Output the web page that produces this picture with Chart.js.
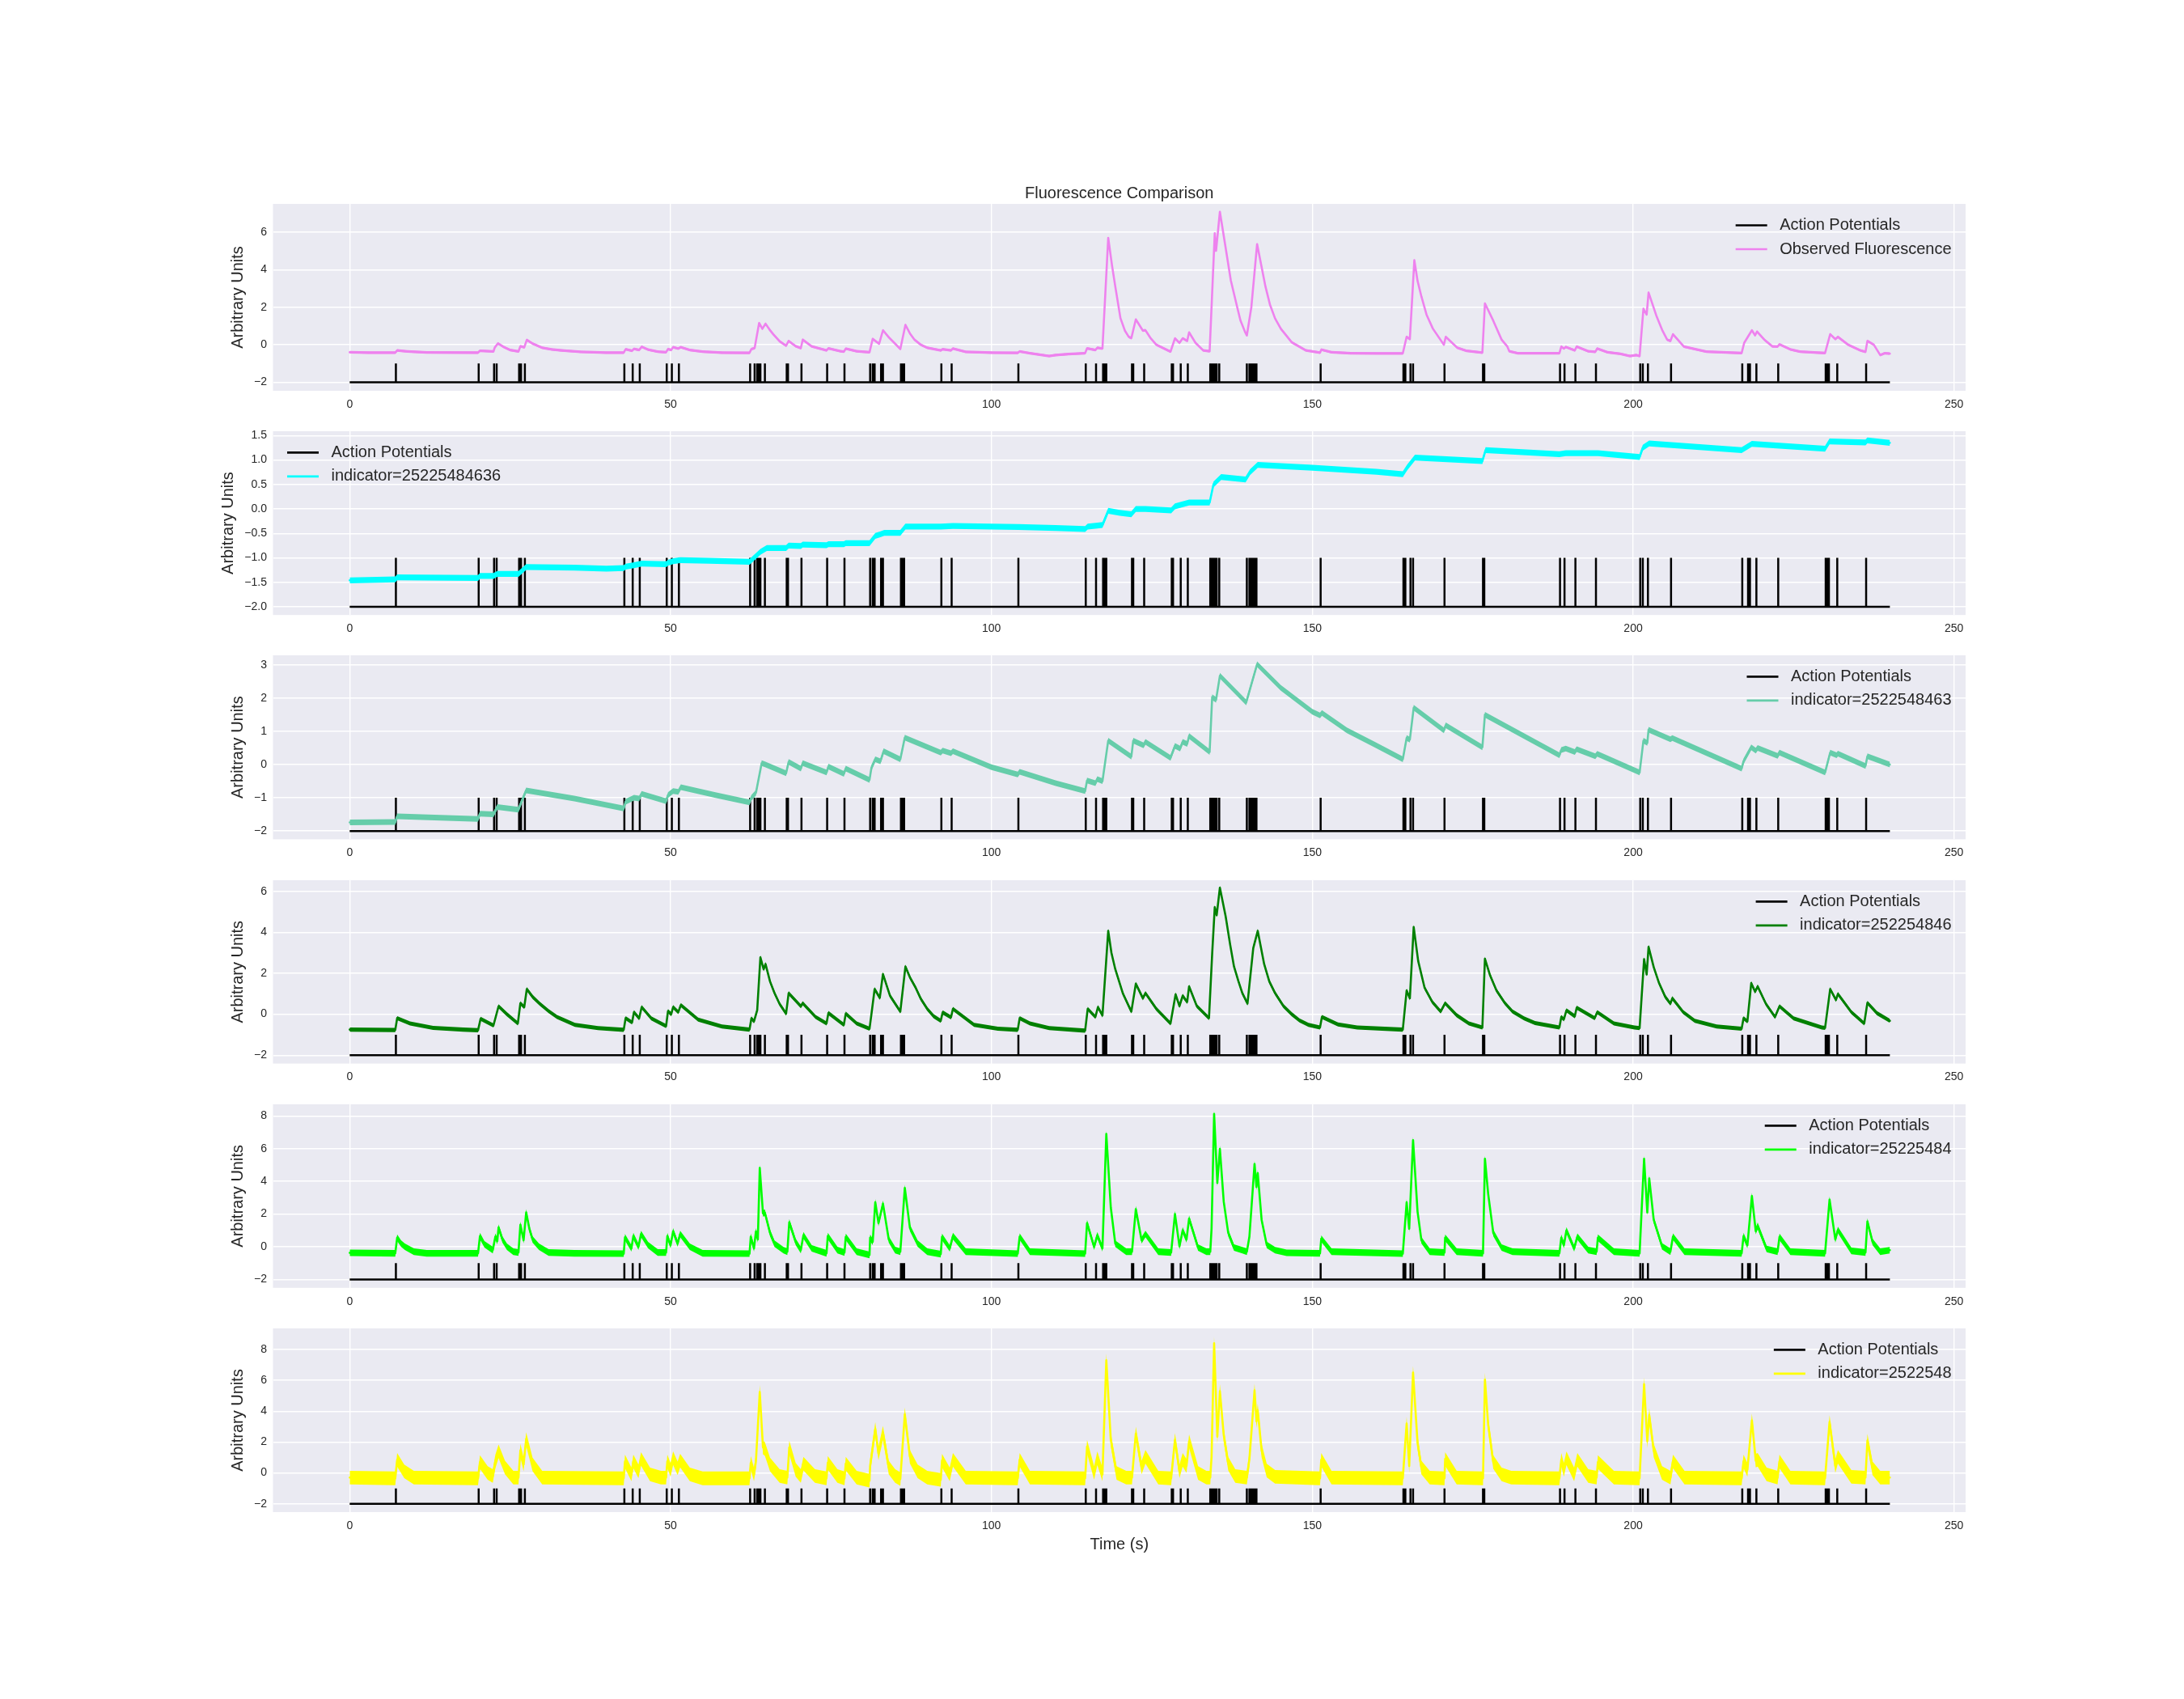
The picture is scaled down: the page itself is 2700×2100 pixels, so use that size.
<!DOCTYPE html>
<html><head><meta charset="utf-8">
<script src="https://cdn.jsdelivr.net/npm/chart.js@4.4.0/dist/chart.umd.min.js"></script>
<style>
html,body{margin:0;padding:0;background:#ffffff;}
body{width:2700px;height:2100px;position:relative;overflow:hidden;}
canvas{position:absolute;}
</style></head><body>
<script>
// ---------------- DATA ----------------
const spikeTimes = [7.2,20.1,22.5,22.9,26.4,26.7,27.3,42.8,44.1,45.2,49.4,50.2,51.3,62.4,63.1,63.5,63.7,64.0,64.7,68.1,68.3,70.4,74.4,77.1,81.1,81.5,81.8,82.8,83.1,85.9,86.1,86.4,92.2,93.8,104.2,114.7,116.3,117.4,117.7,117.9,121.9,122.1,123.8,128.1,128.3,129.5,130.6,134.1,134.3,134.6,134.9,135.1,135.5,139.8,140.2,140.5,140.8,141.0,141.3,151.3,164.2,164.5,165.3,165.7,170.6,176.6,176.8,188.6,189.3,191.0,194.2,201.1,201.5,202.3,205.9,217.0,217.9,218.2,219.2,222.6,230.0,230.3,230.5,231.8,236.3];
const apBase = -2, apPeak = -1, traceStart = 0, traceEnd = 240;

const xTicks = [0,50,100,150,200,250];
const yTicks1 = [-2,0,2,4,6];
const yTicks2 = [-2.0,-1.5,-1.0,-0.5,0.0,0.5,1.0,1.5];
const yTicks3 = [-2,-1,0,1,2,3];
const yTicks4 = [-2,0,2,4,6];
const yTicks5 = [-2,0,2,4,6,8];
const yTicks6 = [-2,0,2,4,6,8];

const seriesLabels = ['Observed Fluorescence','indicator=25225484636','indicator=2522548463','indicator=252254846','indicator=25225484','indicator=2522548'];
const apLabel = 'Action Potentials';
const chartTitle = 'Fluorescence Comparison';
const xLabel = 'Time (s)';
const yLabel = 'Arbitrary Units';

const observedFluorescence = [[0,-0.40],[3,-0.42],[7.1,-0.42],[7.4,-0.30],[9,-0.36],[12,-0.41],[20.0,-0.42],[20.3,-0.32],[22.4,-0.36],[22.6,-0.15],[23.1,0.07],[24,-0.12],[25,-0.28],[26.3,-0.36],[26.6,-0.08],[27.2,-0.14],[27.6,0.26],[28.5,0.06],[30,-0.16],[31.5,-0.25],[33,-0.30],[36,-0.38],[40,-0.42],[42.7,-0.42],[43.0,-0.24],[44.0,-0.32],[44.3,-0.22],[45.1,-0.28],[45.5,-0.11],[46.5,-0.26],[48,-0.37],[49.3,-0.40],[49.6,-0.23],[50.1,-0.28],[50.4,-0.13],[51.2,-0.20],[51.6,-0.13],[53,-0.28],[55,-0.37],[58,-0.42],[62.3,-0.43],[62.6,-0.23],[63.1,-0.18],[63.8,1.16],[64.3,0.85],[64.8,1.12],[65.4,0.82],[66,0.56],[67,0.18],[68.0,-0.05],[68.4,0.20],[69.5,-0.08],[70.3,-0.18],[70.6,0.27],[72,-0.09],[74.3,-0.30],[74.6,-0.19],[76.5,-0.35],[77.0,-0.37],[77.3,-0.21],[79,-0.35],[81.0,-0.40],[81.5,0.31],[82.5,0.05],[83.1,0.77],[84,0.40],[85,0.05],[85.8,-0.23],[86.6,1.06],[87.3,0.60],[88,0.27],[89,0.0],[90,-0.16],[92.1,-0.30],[92.4,-0.24],[93.7,-0.30],[94.0,-0.20],[96,-0.38],[100,-0.42],[104.1,-0.43],[104.4,-0.36],[106,-0.45],[109,-0.60],[110,-0.55],[112,-0.50],[114.6,-0.45],[114.9,-0.19],[116.2,-0.28],[116.5,-0.16],[117.3,-0.20],[118.2,5.69],[118.8,4.2],[119.3,3.10],[120.1,1.42],[120.8,0.75],[121.4,0.42],[121.8,0.35],[122.5,1.35],[123.6,0.75],[124.0,0.77],[124.8,0.35],[125.7,0.0],[127.9,-0.37],[128.6,0.34],[129.3,0.10],[129.8,0.34],[130.5,0.20],[130.8,0.66],[131.8,0.10],[133,-0.30],[134.0,-0.35],[134.8,5.94],[135.0,5.00],[135.6,7.08],[136.5,5.15],[137.3,3.43],[138.2,2.14],[138.8,1.3],[139.5,0.70],[139.8,0.49],[140.5,2.0],[141.4,5.36],[142.1,4.14],[142.7,3.1],[143.4,2.14],[144.2,1.4],[145.1,0.85],[146.8,0.13],[149,-0.30],[151.2,-0.42],[151.4,-0.26],[153,-0.40],[156,-0.45],[160,-0.46],[164.1,-0.46],[164.7,0.42],[165.2,0.30],[165.9,4.50],[166.4,3.4],[167,2.57],[167.8,1.6],[168.8,0.85],[170.5,0.0],[170.8,0.42],[172.6,-0.16],[174,-0.32],[176.5,-0.42],[176.9,2.20],[178.2,1.28],[179.5,0.27],[180.4,-0.10],[180.7,-0.35],[182,-0.45],[188.5,-0.45],[188.8,-0.10],[189.2,-0.20],[189.5,-0.12],[190.9,-0.30],[191.2,-0.10],[193,-0.35],[194.1,-0.38],[194.4,-0.20],[196,-0.40],[198,-0.48],[199.5,-0.60],[200.5,-0.55],[201.0,-0.60],[201.6,1.92],[202.1,1.60],[202.4,2.78],[203.6,1.56],[204.5,0.8],[205.3,0.27],[205.8,0.20],[206.2,0.56],[207.9,-0.10],[211.4,-0.37],[216.9,-0.44],[217.3,0.10],[218.5,0.77],[219.0,0.50],[219.3,0.70],[220.5,0.25],[221.7,-0.09],[222.5,-0.10],[222.8,0.02],[224.5,-0.25],[226,-0.37],[229.9,-0.44],[230.7,0.56],[231.5,0.30],[231.9,0.42],[233.5,0.0],[235.4,-0.30],[236.2,-0.38],[236.5,0.20],[237.5,0.0],[238.5,-0.55],[239.2,-0.45],[240,-0.47]];

const indicator25225484636 = [[0,-1.46],[7.1,-1.44],[7.4,-1.40],[20.0,-1.41],[20.3,-1.37],[22.4,-1.37],[23.0,-1.33],[26.3,-1.33],[27.5,-1.19],[35,-1.20],[40,-1.22],[42.7,-1.21],[43.0,-1.18],[44.3,-1.15],[45.5,-1.12],[49.3,-1.13],[49.6,-1.10],[50.4,-1.07],[51.5,-1.05],[56,-1.06],[62.3,-1.08],[62.6,-1.05],[64.0,-0.88],[65.0,-0.80],[68.0,-0.80],[68.4,-0.75],[70.3,-0.76],[70.6,-0.73],[74.3,-0.74],[74.6,-0.72],[77.0,-0.72],[77.3,-0.70],[81.0,-0.70],[81.9,-0.55],[82.7,-0.52],[83.3,-0.49],[85.8,-0.49],[86.6,-0.36],[92.1,-0.36],[94,-0.35],[100,-0.36],[104.2,-0.37],[110,-0.39],[114.6,-0.41],[115,-0.36],[116.5,-0.34],[117.3,-0.33],[118.2,-0.04],[120,-0.08],[121.8,-0.11],[122.5,0.0],[124,0.0],[128.0,-0.03],[128.6,0.05],[130.8,0.13],[134.0,0.13],[134.6,0.50],[135.8,0.65],[139.6,0.60],[140.3,0.75],[141.5,0.90],[150,0.84],[160,0.76],[164.1,0.71],[164.8,0.85],[166,1.05],[176.5,0.98],[177,1.20],[188.5,1.12],[189.5,1.14],[194.5,1.14],[201,1.06],[201.5,1.25],[202.5,1.34],[216.9,1.20],[218.5,1.33],[229.9,1.23],[230.6,1.38],[236.2,1.36],[236.5,1.40],[240,1.35]];

const indicator2522548463 = [[0,-1.74],[7.1,-1.73],[7.4,-1.56],[20.0,-1.64],[20.3,-1.48],[22.4,-1.50],[23.0,-1.28],[26.3,-1.36],[26.6,-1.20],[27.5,-0.78],[35,-1.02],[42.7,-1.32],[43.0,-1.12],[44.3,-1.00],[45.1,-1.02],[45.5,-0.88],[49.3,-1.10],[49.6,-0.92],[50.4,-0.80],[51.2,-0.82],[51.6,-0.68],[57,-0.92],[62.3,-1.14],[62.6,-1.00],[63.3,-0.85],[64.2,0.04],[64.8,0.0],[68.0,-0.26],[68.4,0.08],[70.3,-0.12],[70.6,0.04],[74.3,-0.24],[74.6,-0.06],[77.0,-0.28],[77.3,-0.12],[81.0,-0.46],[81.3,-0.10],[81.9,0.16],[82.7,0.10],[83.2,0.40],[85.8,0.16],[86.5,0.81],[92.1,0.36],[92.4,0.42],[93.7,0.34],[94.0,0.40],[100,-0.08],[104.1,-0.30],[104.4,-0.22],[110,-0.56],[114.6,-0.80],[114.9,-0.48],[116.2,-0.56],[116.5,-0.44],[117.3,-0.50],[118.2,0.72],[121.8,0.24],[122.1,0.72],[123.7,0.58],[124.0,0.68],[127.9,0.20],[128.6,0.56],[129.4,0.48],[129.8,0.68],[130.5,0.62],[130.8,0.86],[134.0,0.38],[134.4,2.03],[135.0,1.95],[135.6,2.67],[139.7,1.87],[141.4,3.02],[145.1,2.31],[150,1.59],[151.2,1.48],[151.5,1.55],[155.4,1.03],[159.7,0.60],[164.1,0.16],[164.7,0.80],[165.2,0.75],[165.8,1.71],[170.5,1.03],[170.8,1.18],[176.5,0.52],[176.9,1.50],[188.5,0.28],[188.8,0.44],[189.5,0.48],[190.9,0.38],[191.2,0.46],[194.1,0.25],[194.4,0.32],[201.0,-0.24],[201.6,0.72],[202.2,0.65],[202.4,1.05],[205.8,0.76],[206.1,0.80],[216.9,-0.12],[217.2,0.10],[218.4,0.52],[219.1,0.42],[219.4,0.50],[222.5,0.26],[222.8,0.36],[229.9,-0.24],[230.7,0.36],[231.7,0.28],[231.9,0.33],[236.2,-0.04],[236.5,0.25],[240,0.0]];

const indicator252254846 = [[0,-0.75],[7.1,-0.77],[7.4,-0.19],[9.4,-0.45],[13,-0.67],[17.7,-0.75],[20.0,-0.78],[20.4,-0.22],[22.4,-0.55],[23.2,0.39],[24.5,0.0],[26.2,-0.45],[26.6,0.54],[27.2,0.35],[27.6,1.23],[28.5,0.85],[29.6,0.52],[31,0.15],[32.3,-0.13],[35.1,-0.52],[38.7,-0.68],[42.7,-0.76],[43.0,-0.19],[44.0,-0.40],[44.3,0.10],[45.1,-0.20],[45.5,0.35],[47,-0.20],[49.3,-0.58],[49.6,0.15],[50.1,0.0],[50.4,0.35],[51.2,0.10],[51.6,0.45],[54.3,-0.26],[58,-0.60],[62.3,-0.75],[62.6,-0.20],[63.0,-0.35],[63.5,0.20],[64.0,2.78],[64.5,2.20],[64.8,2.45],[65.5,1.60],[66.2,1.03],[67,0.50],[68.0,0.03],[68.4,1.03],[70.3,0.39],[70.6,0.54],[72.6,-0.13],[74.3,-0.45],[74.6,0.06],[77.0,-0.52],[77.3,0.03],[79,-0.45],[81.0,-0.71],[81.3,0.0],[81.8,1.23],[82.6,0.80],[83.1,1.96],[84.2,0.9],[85.8,0.13],[86.6,2.33],[87.3,1.80],[88.2,1.29],[89,0.75],[90,0.26],[91,-0.10],[92.1,-0.32],[92.4,0.09],[93.7,-0.15],[94.0,0.26],[97.3,-0.52],[101,-0.71],[104.1,-0.76],[104.4,-0.19],[106,-0.45],[109,-0.68],[114.6,-0.80],[115,0.26],[116.2,-0.13],[116.6,0.35],[117.3,-0.06],[118.2,4.07],[118.7,3.0],[119.3,2.20],[120.5,1.00],[121.8,0.13],[122.5,1.49],[123.6,0.78],[124.0,1.03],[125.7,0.26],[127.9,-0.45],[128.7,0.97],[129.3,0.40],[129.8,0.90],[130.5,0.60],[130.8,1.36],[132,0.40],[133.9,-0.19],[134.4,2.97],[134.8,5.23],[135.1,4.84],[135.6,6.18],[136.5,4.78],[137.2,3.40],[137.8,2.33],[138.5,1.60],[139.1,1.03],[139.9,0.52],[140.8,3.23],[141.5,4.07],[142.5,2.45],[143.3,1.60],[144.2,1.03],[145.5,0.40],[146.8,0.0],[148,-0.30],[149.4,-0.52],[151.2,-0.65],[151.5,-0.13],[154,-0.50],[157,-0.65],[164.1,-0.75],[164.7,1.16],[165.2,0.78],[165.8,4.26],[166.5,2.60],[167.5,1.29],[168.7,0.60],[170.0,0.13],[170.7,0.54],[172.5,-0.05],[174.4,-0.45],[176.5,-0.65],[176.9,2.71],[177.7,1.90],[178.7,1.16],[180,0.55],[181.2,0.13],[183,-0.20],[184.7,-0.43],[188.5,-0.65],[188.8,-0.13],[189.2,-0.25],[189.6,0.19],[190.9,-0.10],[191.2,0.32],[194.0,-0.19],[194.4,0.10],[197,-0.45],[200.2,-0.65],[201.0,-0.68],[201.7,2.69],[202.1,1.94],[202.4,3.29],[203.2,2.30],[204,1.55],[205,0.85],[205.8,0.52],[206.1,0.78],[207.8,0.10],[209.6,-0.32],[213,-0.60],[216.9,-0.71],[217.2,-0.19],[217.8,-0.35],[218.4,1.52],[219.0,1.10],[219.4,1.36],[220.7,0.50],[222.1,-0.13],[222.8,0.39],[225,-0.20],[229.4,-0.65],[229.9,-0.67],[230.7,1.23],[231.6,0.70],[231.9,0.99],[234,0.10],[236.0,-0.45],[236.5,0.56],[238,0.05],[240,-0.32]];

const indicator25225484 = [[0,-0.37],[7.1,-0.40],[7.4,0.55],[8.0,0.20],[8.6,0.0],[10,-0.30],[12,-0.40],[20.0,-0.40],[20.3,0.65],[21,0.15],[22.3,-0.20],[22.7,0.62],[23.0,0.35],[23.2,1.18],[23.8,0.45],[24.5,0.0],[25.5,-0.30],[26.3,-0.35],[26.6,1.35],[27.1,0.40],[27.5,2.10],[28.0,1.10],[28.5,0.45],[29.5,0.0],[31,-0.35],[35,-0.40],[42.7,-0.42],[42.9,0.58],[43.9,-0.10],[44.2,0.65],[45.0,0.0],[45.4,0.78],[46.5,0.10],[48,-0.35],[49.3,-0.35],[49.5,0.65],[50.0,0.10],[50.4,0.94],[51.1,0.20],[51.5,0.78],[53,0.0],[55,-0.40],[62.3,-0.42],[62.5,0.62],[63.0,-0.10],[63.3,0.94],[63.6,0.45],[63.9,4.82],[64.4,2.05],[64.7,2.08],[65.5,0.85],[66.2,0.19],[67.6,-0.21],[68.2,-0.30],[68.5,1.50],[69.5,0.30],[70.3,-0.20],[70.7,0.70],[72,-0.10],[74.3,-0.40],[74.5,0.65],[76,-0.20],[77.1,-0.35],[77.3,0.60],[79,-0.30],[81.0,-0.50],[81.1,0.55],[81.5,0.30],[81.9,2.72],[82.4,1.45],[83.1,2.63],[84,0.45],[85,-0.20],[85.8,-0.30],[86.5,3.60],[87.3,1.15],[88.5,0.20],[90,-0.30],[92.1,-0.45],[92.3,0.60],[93.5,-0.10],[94.0,0.65],[96,-0.30],[104.1,-0.42],[104.4,0.62],[106,-0.30],[114.6,-0.42],[114.9,1.45],[116,0.0],[116.5,0.70],[117.3,-0.10],[117.9,6.90],[118.6,2.40],[119.3,0.19],[121,-0.30],[121.9,-0.30],[122.5,2.30],[123.4,0.40],[124,0.78],[126,-0.30],[128.0,-0.35],[128.6,2.00],[129.3,0.03],[129.8,1.00],[130.4,0.45],[130.8,1.72],[132.2,-0.05],[133.5,-0.30],[134.1,-0.30],[134.3,1.10],[134.7,8.12],[135.2,3.90],[135.6,5.98],[136.2,2.75],[136.9,0.85],[137.8,-0.05],[139.1,-0.21],[139.8,-0.30],[140.2,0.62],[141.0,5.06],[141.3,3.65],[141.5,4.50],[142.1,1.65],[142.9,0.11],[144.2,-0.21],[146,-0.37],[151.2,-0.40],[151.4,0.50],[153,-0.30],[164.1,-0.42],[164.7,2.72],[165.1,1.10],[165.7,6.52],[166.4,2.15],[167,0.40],[168.3,-0.30],[170.6,-0.35],[170.7,0.55],[172.5,-0.30],[176.6,-0.40],[176.9,5.38],[177.4,3.25],[178.2,0.85],[179.5,-0.05],[181.2,-0.30],[188.5,-0.40],[188.8,0.55],[189.2,0.10],[189.6,1.00],[190.8,-0.10],[191.3,0.62],[193,-0.20],[194.3,-0.30],[194.5,0.55],[197,-0.30],[201.0,-0.40],[201.7,5.38],[202.2,2.10],[202.5,4.18],[203.2,1.65],[204.5,0.03],[205.8,-0.30],[206.2,0.62],[208,-0.30],[216.9,-0.40],[217.2,0.65],[217.8,0.10],[218.5,3.10],[219.1,0.95],[219.4,1.28],[220.8,-0.13],[222.5,-0.30],[222.8,0.60],[224.5,-0.30],[229.9,-0.40],[230.6,2.88],[231.5,0.45],[231.9,1.03],[234,-0.25],[236.2,-0.35],[236.5,1.55],[237.3,0.30],[238.5,-0.30],[240,-0.21]];

const indicator2522548 = [[0,-0.30],[7.1,-0.35],[7.4,0.85],[8.5,0.10],[10,-0.30],[20.0,-0.35],[20.3,0.70],[21.5,0.0],[22.3,-0.20],[22.7,0.75],[23.2,1.40],[24.2,0.35],[25.5,-0.30],[26.3,-0.30],[26.6,1.45],[27.1,0.55],[27.5,2.20],[28.5,0.55],[30,-0.30],[42.7,-0.35],[42.9,0.75],[43.9,-0.10],[44.2,0.75],[45.0,0.10],[45.4,0.90],[46.8,-0.10],[48.5,-0.30],[49.3,-0.30],[49.5,0.75],[50.0,0.20],[50.4,0.95],[51.1,0.30],[51.5,0.80],[53,-0.10],[55,-0.35],[62.3,-0.35],[62.5,0.65],[63.0,-0.10],[63.3,0.75],[63.9,5.25],[64.4,1.65],[64.7,1.55],[65.5,0.55],[67,-0.20],[68.2,-0.30],[68.5,1.65],[69.5,0.20],[70.3,-0.20],[70.7,0.60],[72.5,-0.20],[74.3,-0.35],[74.5,0.65],[76,-0.20],[77.1,-0.35],[77.3,0.60],[79,-0.30],[81.0,-0.50],[81.1,0.45],[81.9,2.85],[82.4,1.25],[83.1,2.60],[84,0.35],[85,-0.20],[85.8,-0.40],[86.5,3.80],[87.3,1.05],[88.5,0.10],[90,-0.30],[92.1,-0.45],[92.3,0.80],[93.5,-0.10],[94.0,0.85],[96,-0.30],[104.1,-0.35],[104.4,0.85],[106,-0.30],[114.6,-0.35],[114.9,1.70],[116,0.0],[116.5,0.95],[117.3,-0.10],[117.9,7.30],[118.6,2.15],[119.5,0.0],[121,-0.30],[121.9,-0.30],[122.5,2.55],[123.4,0.35],[124,1.05],[126,-0.30],[128.0,-0.35],[128.6,2.15],[129.3,0.10],[129.8,0.85],[130.4,0.45],[130.8,2.05],[132.2,0.0],[133.5,-0.30],[134.1,-0.30],[134.3,1.05],[134.7,8.40],[135.2,2.35],[135.6,5.30],[136.2,2.45],[136.9,0.60],[138,-0.20],[139.8,-0.30],[140.2,0.90],[141.0,5.35],[141.3,3.35],[141.5,4.05],[142.1,1.45],[142.9,0.15],[144.2,-0.25],[151.2,-0.35],[151.4,0.85],[153,-0.30],[164.1,-0.35],[164.7,3.20],[165.1,0.45],[165.7,6.50],[166.4,1.95],[167,0.35],[168.3,-0.30],[170.6,-0.35],[170.7,0.90],[172.5,-0.30],[176.6,-0.35],[176.9,6.05],[177.4,3.15],[178.2,0.70],[179.5,-0.10],[181,-0.30],[188.5,-0.35],[188.8,0.85],[189.2,0.20],[189.6,0.95],[190.8,-0.10],[191.3,0.85],[193,-0.20],[194.3,-0.30],[194.5,0.70],[197,-0.30],[201.0,-0.35],[201.7,5.75],[202.2,2.05],[202.5,3.75],[203.2,1.45],[204.5,0.0],[205.8,-0.30],[206.2,0.75],[208,-0.30],[216.9,-0.35],[217.2,0.75],[217.8,0.20],[218.5,3.40],[219.1,0.80],[219.4,0.85],[220.8,-0.10],[222.5,-0.30],[222.8,0.75],[224.5,-0.30],[229.9,-0.35],[230.6,3.30],[231.5,0.45],[231.9,1.05],[234,-0.25],[236.2,-0.30],[236.5,2.10],[237.3,0.30],[238.5,-0.30],[240,-0.30]];

// ---------------- LAYOUT / STYLE ----------------
const FIG_W = 2700, AX_L = 337.5, AX_R = 2430, AX_H = 231, AX_STEP = 277.2, AX_TOP0 = 252;
const TEXT = '#262626';
const FONT = '"Liberation Sans", Arial, Helvetica, sans-serif';
const BIG = 20, SMALL = 14;
Chart.defaults.font.family = FONT;
Chart.defaults.color = TEXT;

// "band" = half-height of the sensor-noise band drawn around each trace (style only)
const panels = [
  {data: observedFluorescence, color:'#EE82EE', band:0.07, yMin:-2.45, yMax:7.50, ticks:yTicks1, dec:0, legend:'right', ylabelX:294},
  {data: indicator25225484636, color:'#00FFFF', band:0.06, yMin:-2.17, yMax:1.59, ticks:yTicks2, dec:1, legend:'left',  ylabelX:282},
  {data: indicator2522548463,  color:'#66CDAA', band:0.085,yMin:-2.25, yMax:3.29, ticks:yTicks3, dec:0, legend:'right', ylabelX:294},
  {data: indicator252254846,   color:'#008000', band:0.10, yMin:-2.41, yMax:6.55, ticks:yTicks4, dec:0, legend:'right', ylabelX:294},
  {data: indicator25225484,    color:'#00FF00', band:0.20, yMin:-2.51, yMax:8.71, ticks:yTicks5, dec:0, legend:'right', ylabelX:294},
  {data: indicator2522548,     color:'#FFFF00', band:0.44, yMin:-2.54, yMax:9.37, ticks:yTicks6, dec:0, legend:'right', ylabelX:294},
];

function apPoints(){
  const pts = [[traceStart, apBase]];
  spikeTimes.forEach(t => { pts.push([t, apBase], [t, apPeak], [t, apBase]); });
  pts.push([traceEnd, apBase]);
  return pts;
}
function fmt(v, dec){ return v.toFixed(dec).replace('-', '\u2212'); }

const bgPlugin = {
  id: 'bg',
  beforeDraw(chart){
    const {ctx, chartArea:a} = chart;
    ctx.save(); ctx.fillStyle = '#EAEAF2';
    ctx.fillRect(a.left, a.top, a.right - a.left, a.bottom - a.top);
    ctx.restore();
  }
};
function legendPlugin(label, color, side){
  return {
    id: 'inlegend',
    afterDraw(chart){
      const {ctx, chartArea:a} = chart;
      ctx.save();
      ctx.font = BIG + 'px ' + FONT;
      const labels = [apLabel, label], colors = ['#000000', color];
      const tw = Math.max(...labels.map(s => ctx.measureText(s).width));
      const pad = 17.5, hl = 39, hp = 15.5;
      const textX = side === 'right' ? a.right - pad - tw : a.left + pad + hl + hp;
      labels.forEach((s, k) => {
        const cy = a.top + 26.5 + k * 29.5;
        ctx.strokeStyle = colors[k]; ctx.lineWidth = 2.6; ctx.lineCap = 'butt';
        ctx.beginPath(); ctx.moveTo(textX - hp - hl, cy); ctx.lineTo(textX - hp, cy); ctx.stroke();
        ctx.fillStyle = TEXT; ctx.textAlign = 'left'; ctx.textBaseline = 'middle';
        ctx.fillText(s, textX, cy);
      });
      ctx.restore();
    }
  };
}
const titlePlugin = {
  id: 'figtitle',
  afterDraw(chart){
    const {ctx, chartArea:a} = chart;
    ctx.save();
    ctx.font = BIG + 'px ' + FONT; ctx.fillStyle = TEXT;
    ctx.textAlign = 'center'; ctx.textBaseline = 'middle';
    ctx.fillText(chartTitle, (a.left + a.right) / 2, a.top - 12.5);
    ctx.restore();
  }
};

panels.forEach((p, i) => {
  const axTop = AX_TOP0 + i * AX_STEP;
  const canvasTop = Math.round(axTop - (i === 0 ? 44 : 12));
  const padTop = axTop - canvasTop;
  const xH = i === 5 ? 64 : 32;
  const left = Math.round(p.ylabelX - 12);
  const W = FIG_W - left;
  const H = Math.ceil(padTop + AX_H + xH);
  const yAxisW = AX_L - left;
  const cv = document.createElement('canvas');
  cv.width = W; cv.height = H;
  cv.style.left = left + 'px'; cv.style.top = canvasTop + 'px';
  cv.style.width = W + 'px'; cv.style.height = H + 'px';
  document.body.appendChild(cv);
  const xAxisH = H - padTop - AX_H;

  const lower = p.data.map(([t, v]) => [t, v - p.band]);
  const upper = p.data.map(([t, v]) => [t, v + p.band]);

  const plugins = [bgPlugin, legendPlugin(seriesLabels[i], p.color, p.legend)];
  if (i === 0) plugins.push(titlePlugin);

  new Chart(cv, {
    type: 'line',
    data: {
      datasets: [
        {label: seriesLabels[i], data: p.data, borderColor: p.color, backgroundColor: p.color,
         borderWidth: 2.6, pointRadius: 0, tension: 0, fill: false, order: 0,
         borderJoinStyle: 'round', borderCapStyle: 'round'},
        {label: 'noise-low', data: lower, borderColor: 'rgba(0,0,0,0)', borderWidth: 0,
         pointRadius: 0, tension: 0, fill: false, order: 2},
        {label: 'noise-high', data: upper, borderColor: 'rgba(0,0,0,0)', borderWidth: 0,
         backgroundColor: p.color, pointRadius: 0, tension: 0, fill: 1, order: 2},
        {label: apLabel, data: apPoints(), borderColor: '#000000', backgroundColor: '#000000',
         borderWidth: 2.5, pointRadius: 0, tension: 0, fill: false, order: 3,
         borderJoinStyle: 'bevel'}
      ]
    },
    options: {
      responsive: false, maintainAspectRatio: false, animation: false, devicePixelRatio: 1,
      layout: {padding: {top: padTop, left: 0, right: FIG_W - AX_R, bottom: 0}},
      plugins: {legend: {display: false}, tooltip: {enabled: false}, title: {display: false},
                filler: {propagate: false}},
      events: [],
      scales: {
        x: {
          type: 'linear', min: -11.95, max: 251.8,
          afterBuildTicks: s => { s.ticks = xTicks.map(v => ({value: v})); },
          afterFit: s => { s.height = xAxisH; },
          ticks: {font: {size: SMALL}, color: TEXT, padding: 8.5, maxRotation: 0, autoSkip: false,
                  callback: v => fmt(v, 0)},
          grid: {color: '#ffffff', lineWidth: 1.4, drawTicks: false},
          border: {display: false},
          title: {display: i === 5, text: xLabel, font: {size: BIG}, color: TEXT, padding: {top: 0, bottom: 12}}
        },
        y: {
          type: 'linear', min: p.yMin, max: p.yMax,
          afterBuildTicks: s => { s.ticks = p.ticks.map(v => ({value: v})); },
          afterFit: s => { s.width = yAxisW; },
          ticks: {font: {size: SMALL}, color: TEXT, padding: 7.5, autoSkip: false,
                  callback: v => fmt(v, p.dec)},
          grid: {color: '#ffffff', lineWidth: 1.4, drawTicks: false},
          border: {display: false},
          title: {display: true, text: yLabel, font: {size: BIG}, color: TEXT, padding: {top: 0, bottom: 0}}
        }
      }
    },
    plugins: plugins
  });
});
</script>
</body></html>
